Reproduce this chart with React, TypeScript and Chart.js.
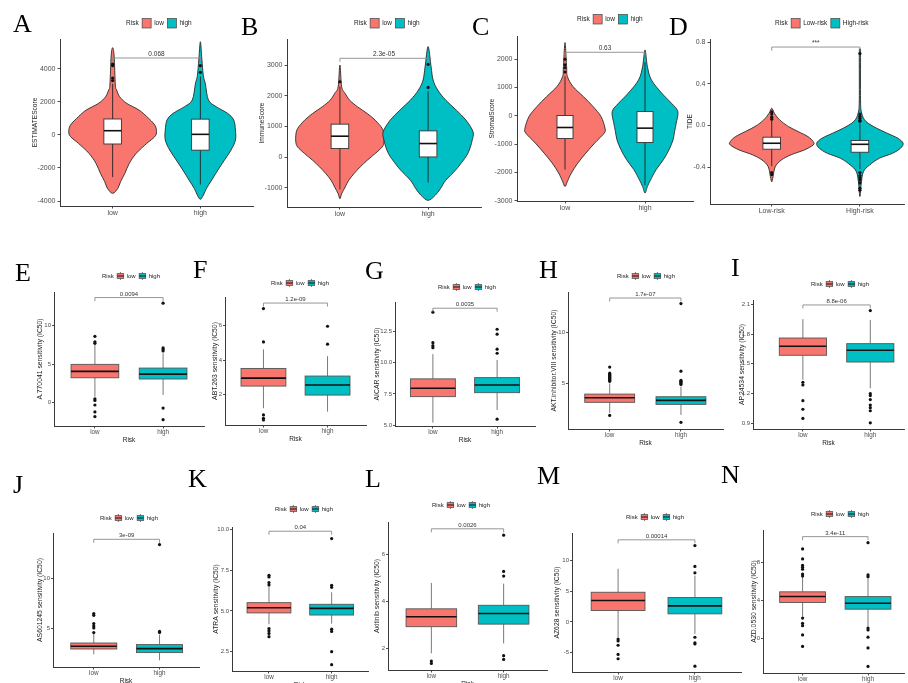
import React, { useEffect, useRef } from "react";
import { Chart, registerables } from "chart.js";

Chart.register(...registerables);

// ======================= DATA =======================
const riskGroups = ["low", "high"];
const riskGroupsD = ["Low-risk", "High-risk"];

// y-axis titles
const yTitles = [
  "ESTIMATEScore", "ImmuneScore", "StromalScore", "TIDE",
  "A.770041 sensitivity (IC50)", "ABT.263 sensitivity (IC50)", "AICAR sensitivity (IC50)",
  "AKT.inhibitor.VIII sensitivity (IC50)", "AP.24534 sensitivity (IC50)",
  "AS601245 sensitivity (IC50)", "ATRA sensitivity (IC50)", "Axitinib sensitivity (IC50)",
  "AZ628 sensitivity (IC50)", "AZD.0530 sensitivity (IC50)",
];
const pLabels = ["0.068", "2.3e-05", "0.63", "***", "0.0094", "1.2e-09", "0.0035", "1.7e-07", "8.8e-06", "3e-09", "0.04", "0.0026", "0.00014", "3.4e-11"];
const bracketValues = [4667, 3218, 2247, 0.752, 13.63, 7.3, 14.39, 13.39, 2.093, 13.93, 9.9, 7.08, 13.33, 10.74];

// ---- A: ESTIMATEScore ----
const A_ticks = [-4000, -2000, 0, 2000, 4000];
const A_lowVioY = [5290, 4790, 3030, 2730, 2320, 1920, 1515, 1110, 606, 200, -100, -505, -1110, -1715, -2320, -2830, -3230, -3535];
const A_lowVioW = [0, 0.017, 0.031, 0.046, 0.08, 0.16, 0.3, 0.39, 0.48, 0.5, 0.48, 0.39, 0.27, 0.19, 0.14, 0.09, 0.06, 0];
const A_highVioY = [5650, 4610, 3600, 3090, 2121, 1717, 1313, 909, 303, -303, -909, -1515, -2121, -2727, -3232, -3636, -3898];
const A_highVioW = [0, 0.017, 0.034, 0.057, 0.092, 0.18, 0.31, 0.38, 0.4, 0.4, 0.35, 0.275, 0.2, 0.13, 0.07, 0.035, 0];
const A_lowBox = [-2550, -545, 260, 970, 3100];
const A_highBox = [-3000, -920, 40, 960, 3550];
const A_lowOut = [4300, 4200, 3450, 3300];
const A_highOut = [4200, 3800];

// ---- B: ImmuneScore ----
const B_ticks = [-1000, 0, 1000, 2000, 3000];
const B_lowVioY = [2999, 2293, 2075, 1858, 1640, 1423, 1206, 934, 717, 500, 337, 120, -98, -315, -532, -750, -967, -1184, -1347];
const B_lowVioW = [0, 0.02, 0.06, 0.11, 0.2, 0.31, 0.4, 0.48, 0.5, 0.5, 0.48, 0.4, 0.31, 0.23, 0.16, 0.1, 0.06, 0.02, 0];
const B_highVioY = [3600, 2944, 2510, 2184, 1858, 1532, 1206, 826, 554, 337, 120, -98, -424, -750, -1021, -1239, -1402];
const B_highVioW = [0, 0.034, 0.057, 0.11, 0.2, 0.32, 0.43, 0.51, 0.5, 0.48, 0.45, 0.4, 0.31, 0.2, 0.14, 0.08, 0];
const B_lowBox = [-1050, 283, 685, 1076, 2300];
const B_highBox = [-820, 10, 446, 858, 2150];
const B_lowOut = [2455];
const B_highOut = [3021, 2270];

// ---- C: StromalScore ----
const C_ticks = [-3000, -2000, -1000, 0, 1000, 2000];
const C_lowVioY = [2590, 1740, 1390, 1035, 680, 330, -24, -435, -610, -965, -1320, -1670, -2020, -2320, -2500];
const C_lowVioW = [0, 0.02, 0.03, 0.1, 0.23, 0.35, 0.45, 0.5, 0.49, 0.37, 0.26, 0.16, 0.08, 0.03, 0];
const C_highVioY = [2330, 1740, 1270, 800, 447, 153, -260, -550, -850, -1200, -1550, -1900, -2260, -2500, -2730];
const C_highVioW = [0, 0.03, 0.08, 0.21, 0.33, 0.41, 0.39, 0.37, 0.35, 0.3, 0.23, 0.14, 0.07, 0.03, 0];
const C_lowBox = [-1900, -800, -412, 12, 1400];
const C_highBox = [-2450, -940, -435, 153, 1900];
const C_lowOut = [2000, 1800, 1700, 1550];
const C_highOut: number[] = [];

// ---- D: TIDE ----
const D_ticks = [-0.4, 0, 0.4, 0.8];
const D_lowVioY = [0.166, 0.118, 0.054, -0.01, -0.058, -0.106, -0.154, -0.186, -0.234, -0.28, -0.33, -0.394, -0.49, -0.54];
const D_lowVioW = [0, 0.03, 0.09, 0.19, 0.3, 0.41, 0.47, 0.47, 0.37, 0.22, 0.11, 0.04, 0.015, 0];
const D_highVioY = [0.72, 0.69, 0.246, 0.118, 0.038, -0.026, -0.074, -0.122, -0.17, -0.218, -0.266, -0.314, -0.378, -0.442, -0.554, -0.68];
const D_highVioW = [0, 0.007, 0.007, 0.02, 0.07, 0.19, 0.31, 0.43, 0.49, 0.46, 0.37, 0.22, 0.11, 0.04, 0.015, 0];
const D_lowBox = [-0.39, -0.227, -0.17, -0.112, 0.05];
const D_highBox = [-0.42, -0.256, -0.18, -0.144, 0.02];
const D_lowOut = [0.13, 0.11, 0.08, 0.06, -0.45, -0.47];
const D_highOut = [0.69, 0.11, 0.09, 0.07, 0.05, 0.04, -0.45, -0.48, -0.5, -0.52, -0.55, -0.6, -0.62];

// ---- E..N: boxplots [lower whisker, Q1, median, Q3, upper whisker] ----
const E_ticks = [0, 5, 10];
const E_lowBox = [0.8, 3.23, 4.06, 4.97, 7.5];
const E_highBox = [1.0, 3.07, 3.71, 4.49, 6.4];
const E_lowOut = [8.6, 7.9, 7.7, 0.5, 0.3, -0.3, -1.2, -1.8];
const E_highOut = [12.9, 7.1, 6.9, 6.7, -0.7, -2.2];

const F_ticks = [2, 4, 6];
const F_lowBox = [1.22, 2.5, 2.96, 3.52, 4.62];
const F_highBox = [1.02, 1.98, 2.56, 3.08, 4.23];
const F_lowOut = [6.98, 5.05, 0.83, 0.64, 0.54];
const F_highOut = [5.96, 4.92];

const G_ticks = [5, 7.5, 10, 12.5];
const G_lowBox = [5.19, 7.28, 7.96, 8.71, 10.7];
const G_highBox = [6.21, 7.6, 8.22, 8.81, 10.23];
const G_lowOut = [14.07, 11.62, 11.38, 11.22];
const G_highOut = [12.7, 12.3, 11.1, 10.77, 5.47];

const H_ticks = [5, 10];
const H_lowBox = [2.1, 3.14, 3.59, 3.95, 5.0];
const H_highBox = [1.9, 2.94, 3.33, 3.69, 4.7];
const H_lowOut = [6.6, 6.0, 5.9, 5.8, 5.7, 5.6, 5.5, 5.4, 5.3, 5.2, 1.85];
const H_highOut = [12.84, 6.2, 5.3, 5.2, 5.1, 5.0, 4.9, 1.18];

const I_ticks = [0.9, 1.2, 1.5, 1.8, 2.1];
const I_lowBox = [1.34, 1.586, 1.677, 1.76, 1.95];
const I_highBox = [1.253, 1.518, 1.636, 1.703, 1.942];
const I_lowOut = [1.314, 1.287, 1.128, 1.042, 0.95];
const I_highOut = [2.036, 1.2, 1.18, 1.14, 1.085, 1.058, 1.027, 0.905];

const J_ticks = [5, 10];
const J_lowBox = [2.43, 2.96, 3.23, 3.56, 4.45];
const J_highBox = [1.83, 2.6, 3.0, 3.4, 4.4];
const J_lowOut = [6.5, 6.33, 5.5, 5.27, 5.07, 4.6];
const J_highOut = [13.4, 4.72, 4.62];

const K_ticks = [2.5, 5, 7.5, 10];
const K_lowBox = [4.18, 4.88, 5.2, 5.51, 6.5];
const K_highBox = [4.22, 4.75, 5.16, 5.41, 6.15];
const K_lowOut = [7.19, 7.09, 6.75, 6.6, 3.92, 3.78, 3.62, 3.42];
const K_highOut = [9.45, 6.58, 6.45, 3.88, 3.74, 2.5, 1.7];

const L_ticks = [2, 4, 6];
const L_lowBox = [1.79, 2.92, 3.34, 3.68, 4.78];
const L_highBox = [2.21, 3.03, 3.48, 3.83, 4.75];
const L_lowOut = [1.46, 1.36];
const L_highOut = [6.81, 5.27, 5.07, 1.69, 1.53];

const M_ticks = [-5, 0, 5, 10];
const M_lowBox = [-2.5, 1.84, 3.46, 4.81, 8.62];
const M_highBox = [-1.95, 1.3, 2.6, 3.95, 7.5];
const M_lowOut = [-2.8, -3.1, -3.8, -5.3, -6.0];
const M_highOut = [12.4, 9.0, 7.97, -2.5, -3.4, -3.6, -7.2];

const N_ticks = [0, 4, 8];
const N_lowBox = [2.32, 3.79, 4.42, 4.92, 6.5];
const N_highBox = [1.26, 3.09, 3.72, 4.42, 6.3];
const N_lowOut = [9.44, 8.39, 7.72, 7.5, 7.3, 6.8, 6.6, 2.15, 1.6, 1.35, 0.37, -0.84];
const N_highOut = [10.1, 6.7, 6.5, 1.1, 0.9, 0.14, -1.0, -2.95];

// ======================= STYLE / LAYOUT =======================
const SANS = '"Liberation Sans", Arial, Helvetica, sans-serif';
const SERIF = '"Liberation Serif", "Times New Roman", Times, serif';
const LOW_COL = "#F8766D";
const HIGH_COL = "#00BFC4";
const AXIS_COL = "#3a3a3a";
const TICK_COL = "#4d4d4d";
const W = 908;
const PAGE_H = 683;
const CANVAS_H = 720;

const BIG = { tick: 7, title: 6.6, cat: 7, xtitle: 6.5, legend: 6.5, p: 6.5, tickLen: 2.5, tickPad: 2 };
const SMALL = { tick: 6, title: 6.8, cat: 6.3, xtitle: 6.5, legend: 6, p: 6, tickLen: 2, tickPad: 1 };

// positions: letter x, letter baseline, axis L, R, T, B, x-range, y-range, y-title x, legend x/y, row style
const LAYOUT = [
  { id: "A", lx: 13, ly: 32, L: 60, R: 253, T: 39, B: 206, xMin: 0.4, xMax: 2.6, yMin: -4303, yMax: 5818, titleX: 35, legX: 126, legY: 23, small: false, dec: 0 },
  { id: "B", lx: 241, ly: 35, L: 287, R: 481, T: 39, B: 207, xMin: 0.4, xMax: 2.6, yMin: -1618, yMax: 3846, titleX: 262, legX: 354, legY: 23, small: false, dec: 0 },
  { id: "C", lx: 472, ly: 35, L: 517, R: 693, T: 36, B: 201, xMin: 0.4, xMax: 2.6, yMin: -3010, yMax: 2822, titleX: 492, legX: 577, legY: 19, small: false, dec: 0 },
  { id: "D", lx: 669, ly: 35, L: 710, R: 908, T: 39, B: 204, xMin: 0.3, xMax: 2.5, yMin: -0.752, yMax: 0.829, titleX: 690, legX: 775, legY: 23, small: false, dec: 1 },
  { id: "E", lx: 15, ly: 281, L: 54, R: 204, T: 292, B: 426, xMin: 0.4, xMax: 2.6, yMin: -3.02, yMax: 14.35, titleX: 40, legX: 102, legY: 276, small: true, dec: 0 },
  { id: "F", lx: 193, ly: 278, L: 225, R: 366, T: 297, B: 425, xMin: 0.4, xMax: 2.6, yMin: 0.25, yMax: 7.65, titleX: 215, legX: 271, legY: 283, small: true, dec: 0 },
  { id: "G", lx: 365, ly: 279, L: 395, R: 535, T: 302, B: 426, xMin: 0.41, xMax: 2.59, yMin: 4.92, yMax: 14.89, titleX: 377, legX: 438, legY: 287, small: true, dec: 1 },
  { id: "H", lx: 539, ly: 278, L: 568, R: 723, T: 292, B: 429, xMin: 0.415, xMax: 2.59, yMin: 0.52, yMax: 13.98, titleX: 554, legX: 617, legY: 276, small: true, dec: 0 },
  { id: "I", lx: 731, ly: 276, L: 753, R: 908, T: 300, B: 429, xMin: 0.26, xMax: 2.5, yMin: 0.843, yMax: 2.143, titleX: 742, legX: 811, legY: 284, small: true, dec: 1 },
  { id: "J", lx: 13, ly: 493, L: 53, R: 199, T: 533, B: 667, xMin: 0.38, xMax: 2.6, yMin: 1.16, yMax: 14.56, titleX: 40, legX: 100, legY: 518, small: true, dec: 0 },
  { id: "K", lx: 188, ly: 487, L: 232, R: 368, T: 527, B: 671, xMin: 0.41, xMax: 2.58, yMin: 1.31, yMax: 10.16, titleX: 216, legX: 275, legY: 509, small: true, dec: 1 },
  { id: "L", lx: 365, ly: 487, L: 388, R: 547, T: 522, B: 670, xMin: 0.4, xMax: 2.6, yMin: 1.08, yMax: 7.37, titleX: 377, legX: 432, legY: 505, small: true, dec: 0 },
  { id: "M", lx: 537, ly: 484, L: 572, R: 741, T: 533, B: 672, xMin: 0.4, xMax: 2.6, yMin: -8.15, yMax: 14.44, titleX: 557, legX: 626, legY: 517, small: true, dec: 0 },
  { id: "N", lx: 721, ly: 483, L: 763, R: 908, T: 530, B: 673, xMin: 0.395, xMax: 2.55, yMin: -3.64, yMax: 11.44, titleX: 754, legX: 811, legY: 514, small: true, dec: 0 },
];

const SERIES = [
  { ticks: A_ticks, lowBox: A_lowBox, highBox: A_highBox, lowOut: A_lowOut, highOut: A_highOut, vio: [A_lowVioY, A_lowVioW, A_highVioY, A_highVioW], cats: riskGroups },
  { ticks: B_ticks, lowBox: B_lowBox, highBox: B_highBox, lowOut: B_lowOut, highOut: B_highOut, vio: [B_lowVioY, B_lowVioW, B_highVioY, B_highVioW], cats: riskGroups },
  { ticks: C_ticks, lowBox: C_lowBox, highBox: C_highBox, lowOut: C_lowOut, highOut: C_highOut, vio: [C_lowVioY, C_lowVioW, C_highVioY, C_highVioW], cats: riskGroups },
  { ticks: D_ticks, lowBox: D_lowBox, highBox: D_highBox, lowOut: D_lowOut, highOut: D_highOut, vio: [D_lowVioY, D_lowVioW, D_highVioY, D_highVioW], cats: riskGroupsD },
  { ticks: E_ticks, lowBox: E_lowBox, highBox: E_highBox, lowOut: E_lowOut, highOut: E_highOut, vio: null, cats: riskGroups },
  { ticks: F_ticks, lowBox: F_lowBox, highBox: F_highBox, lowOut: F_lowOut, highOut: F_highOut, vio: null, cats: riskGroups },
  { ticks: G_ticks, lowBox: G_lowBox, highBox: G_highBox, lowOut: G_lowOut, highOut: G_highOut, vio: null, cats: riskGroups },
  { ticks: H_ticks, lowBox: H_lowBox, highBox: H_highBox, lowOut: H_lowOut, highOut: H_highOut, vio: null, cats: riskGroups },
  { ticks: I_ticks, lowBox: I_lowBox, highBox: I_highBox, lowOut: I_lowOut, highOut: I_highOut, vio: null, cats: riskGroups },
  { ticks: J_ticks, lowBox: J_lowBox, highBox: J_highBox, lowOut: J_lowOut, highOut: J_highOut, vio: null, cats: riskGroups },
  { ticks: K_ticks, lowBox: K_lowBox, highBox: K_highBox, lowOut: K_lowOut, highOut: K_highOut, vio: null, cats: riskGroups },
  { ticks: L_ticks, lowBox: L_lowBox, highBox: L_highBox, lowOut: L_lowOut, highOut: L_highOut, vio: null, cats: riskGroups },
  { ticks: M_ticks, lowBox: M_lowBox, highBox: M_highBox, lowOut: M_lowOut, highOut: M_highOut, vio: null, cats: riskGroups },
  { ticks: N_ticks, lowBox: N_lowBox, highBox: N_highBox, lowOut: N_lowOut, highOut: N_highOut, vio: null, cats: riskGroups },
];

// ======================= DRAWING HELPERS =======================
function drawViolin(ctx: CanvasRenderingContext2D, xs: any, ys: any, c: number, vy: number[], vw: number[], fill: string) {
  const right = vy.map((v, i) => [xs.getPixelForValue(c + vw[i]), ys.getPixelForValue(v)]);
  const left = vy.map((v, i) => [xs.getPixelForValue(c - vw[i]), ys.getPixelForValue(v)]).reverse();
  const pts = right.concat(left.slice(1, -1));
  const n = pts.length;
  ctx.beginPath();
  ctx.moveTo(pts[0][0], pts[0][1]);
  const t = 1 / 6;
  for (let i = 0; i < n; i++) {
    const p0 = pts[(i - 1 + n) % n], p1 = pts[i], p2 = pts[(i + 1) % n], p3 = pts[(i + 2) % n];
    ctx.bezierCurveTo(
      p1[0] + (p2[0] - p0[0]) * t, p1[1] + (p2[1] - p0[1]) * t,
      p2[0] - (p3[0] - p1[0]) * t, p2[1] - (p3[1] - p1[1]) * t,
      p2[0], p2[1]
    );
  }
  ctx.closePath();
  ctx.fillStyle = fill;
  ctx.fill();
  ctx.strokeStyle = "#2a2a2a";
  ctx.lineWidth = 0.9;
  ctx.stroke();
}

function drawBox(ctx: CanvasRenderingContext2D, xs: any, ys: any, c: number, s: number[], fill: string, hw: number, vio: boolean) {
  const [wl, q1, med, q3, wh] = s;
  const xl = xs.getPixelForValue(c - hw), xr = xs.getPixelForValue(c + hw), xc = xs.getPixelForValue(c);
  const yq1 = ys.getPixelForValue(q1), yq3 = ys.getPixelForValue(q3);
  ctx.strokeStyle = vio ? "#222" : "#7a7a7a";
  ctx.lineWidth = vio ? 0.9 : 1;
  ctx.beginPath();
  ctx.moveTo(xc, ys.getPixelForValue(wh)); ctx.lineTo(xc, yq3);
  ctx.moveTo(xc, yq1); ctx.lineTo(xc, ys.getPixelForValue(wl));
  ctx.stroke();
  ctx.fillStyle = fill;
  ctx.fillRect(xl, yq3, xr - xl, yq1 - yq3);
  ctx.strokeStyle = vio ? "#333" : "#555";
  ctx.lineWidth = 0.9;
  ctx.strokeRect(xl, yq3, xr - xl, yq1 - yq3);
  ctx.strokeStyle = "#111";
  ctx.lineWidth = 1.6;
  ctx.beginPath();
  const ym = ys.getPixelForValue(med);
  ctx.moveTo(xl, ym); ctx.lineTo(xr, ym);
  ctx.stroke();
}

function drawKey(ctx: CanvasRenderingContext2D, x: number, y: number, col: string, box: boolean) {
  if (!box) {
    ctx.fillStyle = col;
    ctx.fillRect(x, y - 4.5, 9, 9.5);
    ctx.strokeStyle = "#444";
    ctx.lineWidth = 0.7;
    ctx.strokeRect(x, y - 4.5, 9, 9.5);
    return 9;
  }
  const kw = 6.5, kh = 8;
  ctx.strokeStyle = "#555";
  ctx.lineWidth = 0.8;
  ctx.beginPath();
  ctx.moveTo(x + kw / 2, y - kh / 2); ctx.lineTo(x + kw / 2, y + kh / 2);
  ctx.stroke();
  ctx.fillStyle = col;
  ctx.fillRect(x, y - kh * 0.3, kw, kh * 0.6);
  ctx.strokeRect(x, y - kh * 0.3, kw, kh * 0.6);
  ctx.strokeStyle = "#111";
  ctx.lineWidth = 1;
  ctx.beginPath();
  ctx.moveTo(x, y); ctx.lineTo(x + kw, y);
  ctx.stroke();
  return kw;
}

function buildConfig(idx: number): any {
  const lay = LAYOUT[idx];
  const ser = SERIES[idx];
  const f = lay.small ? SMALL : BIG;
  const titleLH = f.title * 1.2;
  const yw = lay.L - lay.titleX + titleLH / 2;
  const xh = lay.small ? 14 + f.xtitle * 0.6 : 14;
  const isVio = !!ser.vio;

  const decor = {
    id: "decor" + lay.id,
    beforeDatasetsDraw(chart: any) {
      const { ctx } = chart;
      const xs = chart.scales.x, ys = chart.scales.y;
      ctx.save();
      if (ser.vio) {
        drawViolin(ctx, xs, ys, 1, ser.vio[0], ser.vio[1], LOW_COL);
        drawViolin(ctx, xs, ys, 2, ser.vio[2], ser.vio[3], HIGH_COL);
        drawBox(ctx, xs, ys, 1, ser.lowBox, "#ffffff", 0.1, true);
        drawBox(ctx, xs, ys, 2, ser.highBox, "#ffffff", 0.1, true);
      } else {
        drawBox(ctx, xs, ys, 1, ser.lowBox, LOW_COL, 0.35, false);
        drawBox(ctx, xs, ys, 2, ser.highBox, HIGH_COL, 0.35, false);
      }
      ctx.restore();
    },
    afterDraw(chart: any) {
      const { ctx } = chart;
      const xs = chart.scales.x, ys = chart.scales.y;
      ctx.save();
      // panel letter
      ctx.font = `26px ${SERIF}`;
      ctx.fillStyle = "#000";
      ctx.textAlign = "left";
      ctx.textBaseline = "alphabetic";
      ctx.fillText(lay.id, lay.lx, lay.ly);
      // legend
      ctx.font = `${f.legend}px ${SANS}`;
      ctx.textBaseline = "middle";
      let x = lay.legX;
      const y = lay.legY;
      ctx.fillStyle = "#222";
      ctx.fillText("Risk", x, y);
      x += ctx.measureText("Risk").width + 3.5;
      [LOW_COL, HIGH_COL].forEach((col, i) => {
        const kw = drawKey(ctx, x, y, col, !isVio);
        x += kw + 3;
        ctx.fillStyle = "#222";
        ctx.font = `${f.legend}px ${SANS}`;
        ctx.fillText(ser.cats[i], x, y);
        x += ctx.measureText(ser.cats[i]).width + 3.5;
      });
      // significance bracket
      const yb = ys.getPixelForValue(bracketValues[idx]);
      const x1 = xs.getPixelForValue(1), x2 = xs.getPixelForValue(2);
      ctx.strokeStyle = "#8a8a8a";
      ctx.lineWidth = 0.9;
      ctx.beginPath();
      ctx.moveTo(x1, yb + 3.5); ctx.lineTo(x1, yb); ctx.lineTo(x2, yb); ctx.lineTo(x2, yb + 3.5);
      ctx.stroke();
      ctx.fillStyle = "#333";
      ctx.font = `${f.p}px ${SANS}`;
      ctx.textAlign = "center";
      ctx.textBaseline = "bottom";
      ctx.fillText(pLabels[idx], (x1 + x2) / 2, yb - 0.5);
      ctx.restore();
    },
  };

  const pt = {
    pointRadius: 1.6,
    pointBackgroundColor: "#111",
    pointBorderColor: "#111",
    pointBorderWidth: 0,
    backgroundColor: "#111",
    borderColor: "#111",
    showLine: false,
  };

  return {
    type: "scatter",
    data: {
      datasets: [
        { label: ser.cats[0], data: ser.lowOut.map((v) => ({ x: 1, y: v })), ...pt },
        { label: ser.cats[1], data: ser.highOut.map((v) => ({ x: 2, y: v })), ...pt },
      ],
    },
    options: {
      responsive: false,
      animation: false,
      events: [],
      layout: { padding: { left: lay.L - yw, right: W - lay.R, top: lay.T, bottom: CANVAS_H - lay.B - xh } },
      plugins: { legend: { display: false }, tooltip: { enabled: false }, title: { display: false } },
      scales: {
        x: {
          type: "linear",
          position: "bottom",
          min: lay.xMin,
          max: lay.xMax,
          afterBuildTicks: (s: any) => { s.ticks = [{ value: 1 }, { value: 2 }]; },
          afterFit: (s: any) => { s.height = xh; },
          ticks: {
            callback: (v: number) => (v === 1 ? ser.cats[0] : ser.cats[1]),
            font: { family: SANS, size: f.cat },
            color: TICK_COL,
            padding: 0,
            maxRotation: 0,
            autoSkip: false,
          },
          grid: { display: true, drawOnChartArea: false, drawTicks: true, tickLength: 2.5, color: AXIS_COL, lineWidth: 0.9 },
          border: { display: true, color: AXIS_COL, width: 1 },
          title: { display: lay.small, text: "Risk", font: { family: SANS, size: f.xtitle }, color: "#222", padding: 0 },
        },
        y: {
          type: "linear",
          position: "left",
          min: lay.yMin,
          max: lay.yMax,
          afterBuildTicks: (s: any) => { s.ticks = ser.ticks.map((v) => ({ value: v })); },
          afterFit: (s: any) => { s.width = yw; },
          ticks: {
            callback: (v: number) => v.toFixed(lay.dec),
            font: { family: SANS, size: f.tick },
            color: TICK_COL,
            padding: f.tickPad,
            autoSkip: false,
          },
          grid: { display: true, drawOnChartArea: false, drawTicks: true, tickLength: f.tickLen, color: AXIS_COL, lineWidth: 0.9 },
          border: { display: true, color: AXIS_COL, width: 1 },
          title: { display: true, text: yTitles[idx], font: { family: SANS, size: f.title }, color: "#222", padding: 0 },
        },
      },
    },
    plugins: [decor],
  };
}

function Panel({ idx }: { idx: number }) {
  const ref = useRef<HTMLCanvasElement | null>(null);
  useEffect(() => {
    const canvas = ref.current;
    if (!canvas) return;
    const chart = new Chart(canvas, buildConfig(idx));
    return () => chart.destroy();
  }, [idx]);
  return (
    <canvas
      ref={ref}
      width={W}
      height={CANVAS_H}
      style={{ position: "absolute", left: 0, top: 0, width: W, height: CANVAS_H }}
    />
  );
}

export default function App() {
  return (
    <div style={{ position: "absolute", left: 0, top: 0, width: W, height: PAGE_H, overflow: "hidden", background: "#fff" }}>
      {LAYOUT.map((l, i) => (
        <Panel key={l.id} idx={i} />
      ))}
    </div>
  );
}
